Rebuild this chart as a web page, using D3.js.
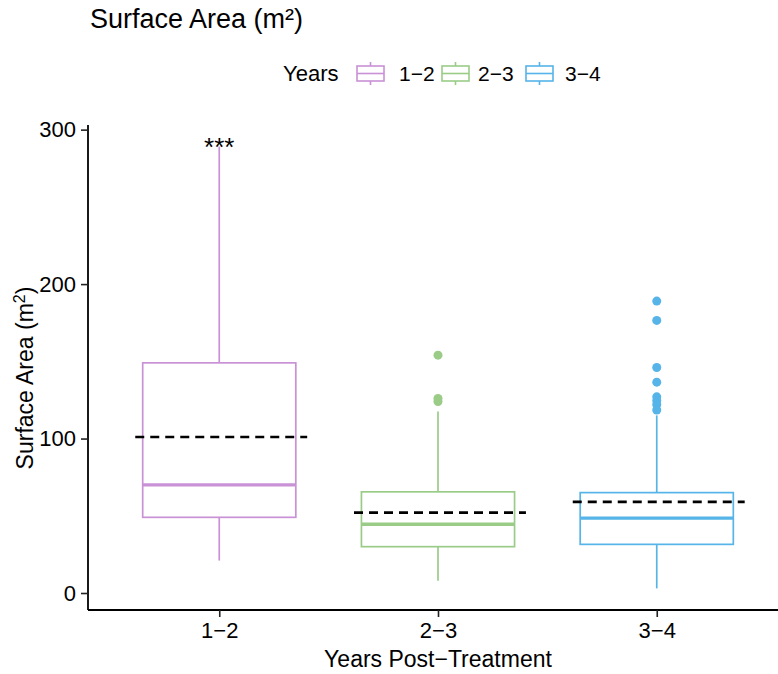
<!DOCTYPE html>
<html>
<head>
<meta charset="utf-8">
<script src="https://cdn.jsdelivr.net/npm/d3@7"></script>
<style>
  html, body { margin: 0; padding: 0; background: #fff; }
  svg { display: block; font-family: "Liberation Sans", Arial, sans-serif; }
</style>
</head>
<body>
<svg id="chart" width="778" height="674"></svg>
<script>
// Summary statistics of surface area (m²) by years post-treatment
const categories   = ["1\u22122", "2\u22123", "3\u22124"];
const whiskerLow   = [21, 8, 3];
const quartile1    = [49, 30, 31.5];
const medians      = [70, 44.5, 48.5];
const quartile3    = [149, 65.5, 65];
const whiskerHigh  = [289, 117.5, 115];
const means        = [101, 52, 59];
const outliers     = [[], [154, 126, 124], [189, 176.5, 146, 136.5, 127, 124.5, 122, 118.5]];
const signif       = ["***", "", ""];
const yTicks       = [0, 100, 200, 300];
const colors       = ["#C992D6", "#9ACC88", "#56B4E9"];

const svg = d3.select("#chart");

const x = d3.scalePoint().domain(categories).range([88, 788]).padding(0.6);
const step = x.step();
const y = d3.scaleLinear().domain([-11, 303]).range([610, 125]);
const color = d3.scaleOrdinal().domain(categories).range(colors);

const boxes = categories.map((c, i) => ({
  cat: c, lo: whiskerLow[i], q1: quartile1[i], med: medians[i],
  q3: quartile3[i], hi: whiskerHigh[i], mean: means[i],
  out: outliers[i], sig: signif[i]
}));

const boxHalf = step * 0.35;
const g = svg.append("g");

// whiskers
g.selectAll(".whisker-hi").data(boxes).join("line")
  .attr("x1", d => x(d.cat)).attr("x2", d => x(d.cat))
  .attr("y1", d => y(d.q3)).attr("y2", d => y(d.hi))
  .attr("stroke", d => color(d.cat)).attr("stroke-width", 1.7);
g.selectAll(".whisker-lo").data(boxes).join("line")
  .attr("x1", d => x(d.cat)).attr("x2", d => x(d.cat))
  .attr("y1", d => y(d.q1)).attr("y2", d => y(d.lo))
  .attr("stroke", d => color(d.cat)).attr("stroke-width", 1.7);

// boxes
g.selectAll(".box").data(boxes).join("rect")
  .attr("x", d => x(d.cat) - boxHalf).attr("width", boxHalf * 2)
  .attr("y", d => y(d.q3)).attr("height", d => y(d.q1) - y(d.q3))
  .attr("fill", "#fff").attr("stroke", d => color(d.cat)).attr("stroke-width", 1.7);

// medians
g.selectAll(".median").data(boxes).join("line")
  .attr("x1", d => x(d.cat) - boxHalf).attr("x2", d => x(d.cat) + boxHalf)
  .attr("y1", d => y(d.med)).attr("y2", d => y(d.med))
  .attr("stroke", d => color(d.cat)).attr("stroke-width", 3.4);

// outliers
boxes.forEach(d => {
  g.selectAll(null).data(d.out).join("circle")
    .attr("cx", x(d.cat)).attr("cy", v => y(v)).attr("r", 4.5)
    .attr("fill", color(d.cat));
});

// group means
g.selectAll(".mean").data(boxes).join("line")
  .attr("x1", d => x(d.cat) - step * 0.384).attr("x2", d => x(d.cat) + step * 0.402)
  .attr("y1", d => y(d.mean)).attr("y2", d => y(d.mean))
  .attr("stroke", "#000").attr("stroke-width", 2.7).attr("stroke-dasharray", "9,6");

// significance labels
g.selectAll(".sig").data(boxes.filter(d => d.sig)).join("text")
  .attr("x", d => x(d.cat)).attr("y", d => y(d.hi) + 9)
  .attr("text-anchor", "middle").attr("font-size", 26).attr("fill", "#000")
  .text(d => d.sig);

// axes
const yAxis = svg.append("g").attr("transform", "translate(88,0)")
  .call(d3.axisLeft(y).tickValues(yTicks).tickSize(7).tickPadding(5));
const xAxis = svg.append("g").attr("transform", "translate(0,610)")
  .call(d3.axisBottom(x).tickSize(7).tickPadding(5));
[yAxis, xAxis].forEach(a => {
  a.select(".domain").attr("stroke", "#000").attr("stroke-width", 1.8);
  a.selectAll(".tick line").attr("stroke", "#222").attr("stroke-width", 1.6);
  a.selectAll(".tick text").attr("fill", "#000").attr("font-size", 22)
    .attr("font-family", "Liberation Sans, Arial, sans-serif");
});
yAxis.select(".domain").attr("d", "M0,125V610");
xAxis.select(".domain").attr("d", "M88,0H790");

// axis titles
svg.append("text").attr("x", 438).attr("y", 667).attr("text-anchor", "middle")
  .attr("font-size", 23).attr("fill", "#000").text("Years Post\u2212Treatment");
const yt = svg.append("text").attr("transform", "translate(33,378) rotate(-90)")
  .attr("text-anchor", "middle").attr("font-size", 23).attr("fill", "#000");
yt.append("tspan").text("Surface Area (m");
yt.append("tspan").attr("dy", -8).attr("font-size", 16).text("2");
yt.append("tspan").attr("dy", 8).text(")");

// plot title
svg.append("text").attr("x", 90).attr("y", 28).attr("font-size", 27).attr("fill", "#000")
  .text("Surface Area (m\u00B2)");

// legend
const legend = svg.append("g");
legend.append("text").attr("x", 283).attr("y", 81).attr("font-size", 22).attr("fill", "#000").text("Years");
const keyX = [357, 442, 526];
const labX = [399, 478, 565];
categories.forEach((c, i) => {
  const kx = keyX[i], cx = kx + 13.5;
  const k = legend.append("g").attr("stroke", color(c)).attr("stroke-width", 1.6).attr("fill", "none");
  k.append("rect").attr("x", kx).attr("y", 66).attr("width", 27).attr("height", 15);
  k.append("line").attr("x1", kx).attr("x2", kx + 27).attr("y1", 73.5).attr("y2", 73.5);
  k.append("line").attr("x1", cx).attr("x2", cx).attr("y1", 62).attr("y2", 66);
  k.append("line").attr("x1", cx).attr("x2", cx).attr("y1", 81).attr("y2", 85);
  legend.append("text").attr("x", labX[i]).attr("y", 81).attr("font-size", 21).attr("fill", "#000").text(c);
});
</script>
</body>
</html>
